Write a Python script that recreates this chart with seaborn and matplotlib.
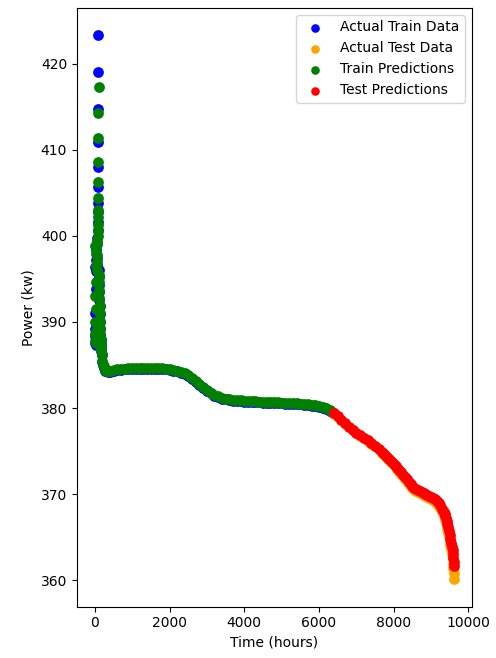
import matplotlib
matplotlib.use("Agg")
import matplotlib.pyplot as plt
import pandas as pd
import seaborn as sns

# ---- training window: noisy start-up hours ----
startup_hours = [0, 3, 6, 12, 15, 18, 24, 27, 30, 36, 39, 42, 48, 51, 54,
                 60, 63, 66, 70, 74, 78, 82, 84, 86, 88, 90, 92, 94, 96, 98,
                 102, 108, 114, 120, 126, 132, 138, 144, 150, 156, 162, 168,
                 174, 180]
startup_actual = [396.4, 388.4, 391.0, 389.2, 387.6, 393.8, 395.9, 388.9,
                  397.2, 398.3, 387.3, 398.9, 397.4, 389.8, 396.6, 395.8,
                  388.1, 399.1, 399.8, 400.7, 401.6, 402.8, 403.8, 405.7,
                  408.0, 410.9, 414.7, 419.0, 423.3, 396.0, 395.2, 394.3,
                  393.5, 392.6, 391.8, 390.9, 390.0, 389.2, 388.5, 387.9,
                  387.4, 387.0, 386.6, 386.2]
startup_pred = [398.8, 388.6, 393.0, 390.0, 387.8, 391.5, 394.6, 389.0,
                396.5, 397.9, 387.5, 398.6, 397.8, 389.9, 396.9, 396.0,
                388.2, 399.2, 399.4, 400.0, 400.5, 401.2, 402.2, 403.0,
                404.4, 406.3, 408.6, 411.3, 414.3, 417.3, 395.4, 394.6,
                393.7, 392.8, 391.9, 391.0, 390.1, 389.3, 388.6, 388.0,
                387.5, 387.1, 386.7, 386.3]

# ---- training window: steady operation ----
steady_hours = [200, 220, 240, 260, 280, 300, 350, 400, 500, 600,
                700, 800, 900, 1000, 1100, 1200, 1300, 1400, 1500, 1600,
                1700, 1800, 1900, 2000, 2100, 2200, 2300, 2400, 2500, 2600,
                2700, 2800, 2900, 3000, 3100, 3200, 3300, 3400, 3500, 3600,
                3700, 3800, 3900, 4000, 4100, 4200, 4300, 4400, 4500, 4600,
                4700, 4800, 4900, 5000, 5100, 5200, 5300, 5400, 5500, 5600,
                5700, 5800, 5900, 6000, 6100, 6200, 6300, 6350]
steady_actual = [385.4, 385.0, 384.7, 384.5, 384.35,
                 384.25, 384.2, 384.23, 384.35, 384.4, 384.45, 384.48, 384.5,
                 384.52, 384.54, 384.55, 384.56, 384.57, 384.57, 384.57,
                 384.56, 384.53, 384.48, 384.42, 384.35, 384.25, 384.12, 383.95,
                 383.7, 383.4, 383.05, 382.7, 382.35, 382.0, 381.7, 381.45,
                 381.25, 381.1, 381.0, 380.92, 380.86, 380.82, 380.78, 380.75,
                 380.72, 380.7, 380.68, 380.66, 380.64, 380.62, 380.6,
                 380.58, 380.56, 380.54, 380.52, 380.5, 380.48, 380.45,
                 380.42, 380.38, 380.34, 380.28, 380.2, 380.12, 380.0,
                 379.85, 379.65, 379.5]
steady_pred = [385.5, 385.1, 384.8, 384.6, 384.45, 384.35,
               384.3, 384.33, 384.45, 384.5, 384.55, 384.58, 384.6, 384.62,
               384.64, 384.65, 384.66, 384.67, 384.67, 384.67, 384.66,
               384.63, 384.58, 384.52, 384.45, 384.35, 384.22, 384.05,
               383.8, 383.5, 383.15, 382.8, 382.45, 382.1, 381.8, 381.55,
               381.35, 381.2, 381.1, 381.02, 380.96, 380.92, 380.88, 380.85,
               380.82, 380.8, 380.78, 380.76, 380.74, 380.72, 380.7, 380.68,
               380.66, 380.64, 380.62, 380.6, 380.58, 380.55, 380.52, 380.48,
               380.44, 380.38, 380.3, 380.22, 380.1, 379.95, 379.75, 379.6]

# ---- test window ----
test_hours = [6400, 6500, 6600, 6700, 6800, 6900, 7000, 7100, 7200, 7300,
              7400, 7500, 7600,
              7700, 7750, 7800, 7850, 7900, 7950, 8000, 8050, 8100, 8150,
              8200, 8250, 8300, 8350, 8400, 8450, 8500, 8550, 8600, 8650,
              8700, 8750, 8800, 8850, 8900, 8950, 9000, 9050, 9100, 9150,
              9200, 9250, 9300,
              9320, 9340, 9360, 9380, 9400, 9420, 9440, 9460, 9480, 9500,
              9520, 9540, 9560, 9575, 9590, 9600, 9610, 9620]
test_actual = [379.35, 379.0, 378.6, 378.2, 377.8, 377.42, 377.08, 376.78,
               376.48, 376.18, 375.88, 375.56, 375.2,
               374.78, 374.55, 374.3, 374.05, 373.8, 373.58, 373.35, 373.12,
               372.88, 372.62, 372.35, 372.08, 371.8, 371.5, 371.2, 370.95,
               370.7, 370.52, 370.35, 370.22, 370.1, 370.0, 369.9, 369.79,
               369.68, 369.55, 369.42, 369.27, 369.1, 368.9, 368.68, 368.38,
               368.0,
               367.8, 367.6, 367.35, 367.05, 366.75, 366.4, 366.0, 365.55,
               365.1, 364.6, 364.1, 363.6, 363.05, 362.55, 361.9, 361.4,
               360.8, 360.1]
test_pred = [379.4, 379.05, 378.65, 378.25, 377.85, 377.5, 377.15, 376.85,
             376.55, 376.25, 375.95, 375.65, 375.3,
             374.9, 374.68, 374.45, 374.2, 373.95, 373.75, 373.55, 373.3,
             373.05, 372.8, 372.55, 372.28, 372.0, 371.72, 371.45, 371.2,
             370.95, 370.77, 370.6, 370.47, 370.35, 370.25, 370.15, 370.05,
             369.95, 369.83, 369.7, 369.55, 369.4, 369.2, 369.0, 368.7,
             368.3,
             368.1, 367.95, 367.75, 367.5, 367.2, 366.9, 366.55, 366.15,
             365.7, 365.25, 364.8, 364.35, 363.9, 363.5, 363.0, 362.6,
             362.15, 361.7]

train = pd.DataFrame({
    "hours": startup_hours + steady_hours,
    "actual": startup_actual + steady_actual,
    "pred": startup_pred + steady_pred,
})
test = pd.DataFrame({"hours": test_hours, "actual": test_actual, "pred": test_pred})

fig, ax = plt.subplots(figsize=(4.96, 6.58), dpi=100)
fig.subplots_adjust(left=0.155, right=0.952, top=0.988, bottom=0.078)

marker = dict(s=60, linewidth=0, ax=ax)
sns.scatterplot(data=train, x="hours", y="actual", color="blue",
                label="Actual Train Data", **marker)
sns.scatterplot(data=test, x="hours", y="actual", color="orange",
                label="Actual Test Data", **marker)
sns.scatterplot(data=train, x="hours", y="pred", color="green",
                label="Train Predictions", **marker)
sns.scatterplot(data=test, x="hours", y="pred", color="red",
                label="Test Predictions", **marker)

ax.set_xlabel("Time (hours)")
ax.set_ylabel("Power (kw)")
ax.set_xticks([0, 2000, 4000, 6000, 8000, 10000])
ax.set_yticks([360, 370, 380, 390, 400, 410, 420])
ax.legend(loc="upper right", markerscale=0.8)

fig.savefig("out.png", dpi=100)
